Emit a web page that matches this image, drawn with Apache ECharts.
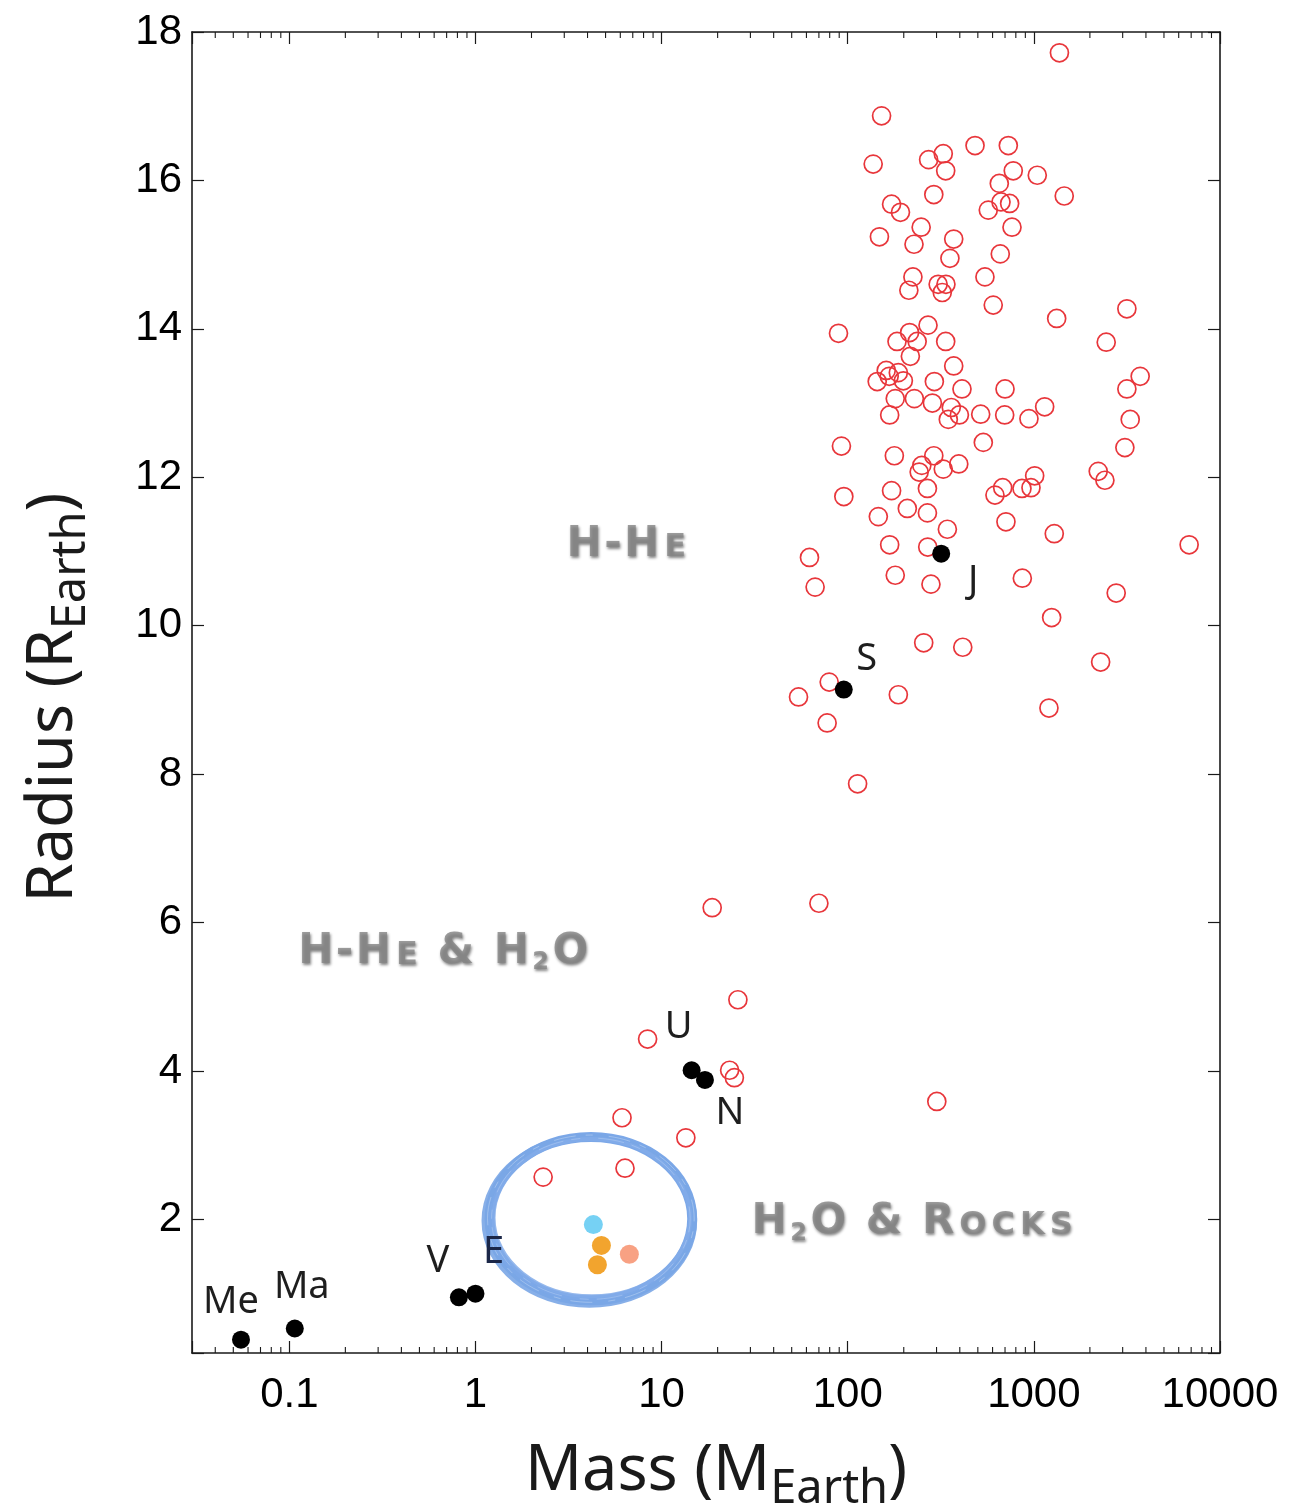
<!DOCTYPE html>
<html>
<head>
<meta charset="utf-8">
<title>Mass - Radius</title>
<script src="https://cdn.jsdelivr.net/npm/echarts@6/dist/echarts.min.js"></script>
<style>
    html, body { margin: 0; padding: 0; background: #fff; }
    #chart { width: 1289px; height: 1507px; }
</style>
</head>
<body>
<div id="chart"></div>
<script>
    // exoplanets (open red circles), mass in Earth masses, radius in Earth radii
    var exoMass = [
        1372, 152, 137, 272, 326, 336, 483, 729, 775, 1043,
        1456, 652, 666, 741, 569, 290, 172, 192, 248, 148,
        227, 371, 354, 763, 660, 546, 224, 213, 306, 337,
        322, 605, 3160, 1326, 2447, 89.2, 215, 270, 184, 236,
        336, 217, 371, 3725, 161, 187, 167, 144, 199, 292,
        411, 700, 3160, 180, 228, 285, 360, 398, 347, 168,
        518, 697, 941, 1143, 3293, 535, 3083, 92.5, 178, 290,
        250, 242, 326, 395, 2217, 2408, 95.3, 172, 268, 209,
        268, 146, 343, 618, 680, 863, 965, 1010, 708, 1287,
        6826, 62.3, 168, 269, 66.8, 180, 280, 867, 2769, 1246,
        256, 415, 2284, 79.5, 54.4, 187, 77.5, 1205, 113,
        18.7, 70.0, 25.7, 8.41, 23.2, 24.6, 301, 6.13, 13.5, 6.36, 2.31
    ]
    var exoRadius = [
        17.72, 16.87, 16.22, 16.28, 16.36, 16.13, 16.47, 16.47, 16.13, 16.07,
        15.79, 15.96, 15.71, 15.69, 15.60, 15.81, 15.68, 15.57, 15.37, 15.24,
        15.14, 15.21, 14.95, 15.37, 15.01, 14.70, 14.70, 14.52, 14.60, 14.60,
        14.49, 14.32, 14.27, 14.14, 13.82, 13.94, 13.95, 14.05, 13.83, 13.83,
        13.83, 13.63, 13.50, 13.36, 13.44, 13.41, 13.36, 13.29, 13.30, 13.29,
        13.19, 13.19, 13.19, 13.06, 13.06, 13.00, 12.94, 12.84, 12.78, 12.84,
        12.85, 12.84, 12.79, 12.95, 12.78, 12.47, 12.40, 12.42, 12.29, 12.29,
        12.16, 12.07, 12.11, 12.18, 12.08, 11.96, 11.74, 11.82, 11.85, 11.58,
        11.52, 11.47, 11.30, 11.76, 11.86, 11.85, 11.86, 12.02, 11.40, 11.24,
        11.09, 10.92, 11.09, 11.06, 10.52, 10.68, 10.56, 10.64, 10.44, 10.11,
        9.77, 9.71, 9.51, 9.24, 9.04, 9.07, 8.69, 8.89, 7.87,
        6.20, 6.26, 4.96, 4.43, 4.01, 3.91, 3.59, 3.37, 3.10, 2.69, 2.57
    ]

    // solar system planets
    var planetNames = ['Me', 'Ma', 'V', 'E', 'U', 'N', 'S', 'J']
    var planetMass = [0.055, 0.107, 0.815, 1.0, 14.5, 17.1, 95.2, 317.8]
    var planetRadius = [0.38, 0.53, 0.95, 1.0, 4.01, 3.88, 9.14, 10.97]

    // small planets inside the ring
    var smallMass = [4.30, 4.75, 4.52, 6.71]
    var smallRadius = [1.93, 1.65, 1.39, 1.53]

    // ring around them: [low, high]
    var ringMass = [1.19, 14.6]
    var ringRadius = [0.91, 3.11]

    // composition regions
    var regionNames = ['H-He', 'H-He & H2O', 'H2O & Rocks']
    var regionMass = [6.46, 0.671, 222]
    var regionRadius = [11.09, 5.60, 1.96]

    // axes
    var massTicks = [0.1, 1, 10, 100, 1000, 10000]
    var radiusTicks = [2, 4, 6, 8, 10, 12, 14, 16, 18]
    var massRange = [0.03, 10000]
    var radiusRange = [0.2, 18]

    // ---- styling ----
    var smallColors = ['#76d1f4', '#f2a42e', '#f2a42e', '#f8a183']
    var planetLabelOffset = {
        Me: [-10, -37], Ma: [7, -41], V: [-21, -36], E: [18, -41],
        U: [-13, -43], N: [25, 33], S: [23, -30], J: [32, 27]
    }
    var planetLabelColor = { E: '#1b2748' }

    var minorTicks = []
    ;[0.01, 0.1, 1, 10, 100, 1000].forEach(function (d) {
        for (var k = 2; k <= 9; k++) {
            var v = d * k
            if (v > massRange[0] * 1.05 && v < massRange[1]) minorTicks.push(v)
        }
    })

    function smallCaps(str) {
        var out = ''
        for (var i = 0; i < str.length; i++) {
            var c = str[i]
            if (c === ' ') out += '{sp| }'
            else if (c >= '0' && c <= '9') out += '{sub|' + c + '}'
            else if (c >= 'a' && c <= 'z') out += '{sc|' + c.toUpperCase() + '}'
            else if (c === '-') out += '{dash|' + c + '}'
            else out += '{cap|' + c + '}'
        }
        return out
    }

    var shadow = {
        fontFamily: 'DejaVu Sans',
        fontWeight: 'bold',
        color: '#858585',
        verticalAlign: 'top',
        textShadowColor: 'rgba(0,0,0,0.6)',
        textShadowBlur: 3,
        textShadowOffsetX: 1,
        textShadowOffsetY: 2
    }
    var regionRich = {
        cap: Object.assign({ fontSize: 42, lineHeight: 42, padding: [0, 2.5, 0, 2.5] }, shadow),
        dash: Object.assign({ fontSize: 42, lineHeight: 42, padding: [0, 0, 0, 0] }, shadow),
        sc: Object.assign({ fontSize: 32, lineHeight: 32, padding: [8, 2.5, 0, 2.5] }, shadow),
        sub: Object.assign({ fontSize: 24, lineHeight: 24, padding: [20, 1, 0, 1] }, shadow),
        sp: Object.assign({ fontSize: 42, lineHeight: 42 }, shadow)
    }

    var titleRich = {
        a: { fontSize: 63, lineHeight: 63, fontFamily: 'Noto Sans', color: '#1a1a1a', verticalAlign: 'top' },
        s: { fontSize: 47, lineHeight: 47, fontFamily: 'Noto Sans', color: '#1a1a1a', verticalAlign: 'top', padding: [25, 0, 0, 0] },
        gap: { width: 10, fontSize: 10, lineHeight: 10, verticalAlign: 'top' },
        gap2: { width: 20, fontSize: 10, lineHeight: 10, verticalAlign: 'top' }
    }

    var axisColor = '#1a1a1a'

    function massLabel(v) {
        for (var i = 0; i < massTicks.length; i++) {
            if (Math.abs(Math.log10(v / massTicks[i])) < 1e-6) return String(massTicks[i])
        }
        return ''
    }
    function radiusLabel(v) {
        var r = Math.round(v * 1000) / 1000
        return radiusTicks.indexOf(r) >= 0 ? String(r) : ''
    }

    var chart = echarts.init(document.getElementById('chart'))

    chart.setOption({
        animation: false,
        backgroundColor: '#fff',
        grid: { left: 192, right: 69, top: 32, bottom: 154, containLabel: false, outerBoundsMode: 'none' },
        xAxis: [
            {
                type: 'log',
                logBase: 10,
                min: massRange[0],
                max: massRange[1],
                position: 'bottom',
                name: '{gap2| }{a|Mass (M}{s|Earth}{a|)}',
                nameLocation: 'middle',
                nameGap: 88,
                nameTextStyle: { rich: titleRich },
                axisLine: { show: true, onZero: false, lineStyle: { color: axisColor, width: 1.6 } },
                axisTick: { show: true, inside: true, length: 12, lineStyle: { color: axisColor, width: 1.2 } },
                axisLabel: {
                    margin: 21,
                    fontSize: 42,
                    fontFamily: 'Liberation Sans',
                    color: '#000',
                    formatter: massLabel
                },
                splitLine: { show: false }
            },
            {
                type: 'log',
                logBase: 10,
                min: massRange[0],
                max: massRange[1],
                position: 'top',
                axisLine: { show: true, onZero: false, lineStyle: { color: axisColor, width: 1.6 } },
                axisTick: { show: true, inside: true, length: 12, lineStyle: { color: axisColor, width: 1.2 } },
                axisLabel: { show: false },
                splitLine: { show: false }
            }
        ],
        yAxis: [
            {
                type: 'value',
                min: radiusRange[0],
                max: radiusRange[1],
                splitNumber: 9,
                position: 'left',
                name: '{a|Radius (R}{s|Earth}{a|)}{gap| }',
                nameLocation: 'middle',
                nameRotate: 90,
                nameGap: 106,
                nameTextStyle: { rich: titleRich },
                axisLine: { show: true, onZero: false, lineStyle: { color: axisColor, width: 1.6 } },
                axisTick: { show: true, inside: true, length: 12, lineStyle: { color: axisColor, width: 1.2 } },
                axisLabel: {
                    margin: 10,
                    fontSize: 42,
                    fontFamily: 'Liberation Sans',
                    color: '#000',
                    formatter: radiusLabel
                },
                splitLine: { show: false }
            },
            {
                type: 'value',
                min: radiusRange[0],
                max: radiusRange[1],
                splitNumber: 9,
                position: 'right',
                axisLine: { show: true, onZero: false, lineStyle: { color: axisColor, width: 1.6 } },
                axisTick: { show: true, inside: true, length: 12, lineStyle: { color: axisColor, width: 1.2 } },
                axisLabel: { show: false },
                splitLine: { show: false }
            }
        ],
        series: [
            {
                // log-spaced minor ticks on bottom and top
                type: 'custom',
                silent: true,
                clip: false,
                data: minorTicks.map(function (v) { return [v, radiusRange[0]] }),
                renderItem: function (params, api) {
                    var b = api.coord([api.value(0), radiusRange[0]])
                    var t = api.coord([api.value(0), radiusRange[1]])
                    var st = { stroke: axisColor, lineWidth: 1.1 }
                    return {
                        type: 'group',
                        children: [
                            { type: 'line', shape: { x1: b[0], y1: b[1], x2: b[0], y2: b[1] - 6 }, style: st },
                            { type: 'line', shape: { x1: t[0], y1: t[1], x2: t[0], y2: t[1] + 6 }, style: st }
                        ]
                    }
                }
            },
            {
                // hand drawn ring
                type: 'custom',
                silent: true,
                z: 1,
                data: [[ringMass[0], ringMass[1], ringRadius[0], ringRadius[1]]],
                encode: { x: [0, 1], y: [2, 3] },
                renderItem: function (params, api) {
                    var p0 = api.coord([api.value(0), api.value(3)])
                    var p1 = api.coord([api.value(1), api.value(2)])
                    var cx = (p0[0] + p1[0]) / 2
                    var cy = (p0[1] + p1[1]) / 2
                    var rx = (p1[0] - p0[0]) / 2
                    var ry = (p1[1] - p0[1]) / 2
                    function ring(dx, dy, drx, dry, w, color, op, dash) {
                        return {
                            type: 'ellipse',
                            shape: { cx: cx + dx, cy: cy + dy, rx: rx + drx, ry: ry + dry },
                            style: { fill: 'transparent', stroke: color, lineWidth: w, opacity: op, lineDash: dash || null }
                        }
                    }
                    return {
                        type: 'group',
                        children: [
                            ring(0, 0, 0, 0, 10, '#7ca8e8', 1),
                            ring(-1.5, 2, 3, 2, 7, '#7aa6e6', 0.9),
                            ring(1, -1, -3, -3, 4, '#82abe9', 0.85),
                            ring(0, 0, 2, 2, 0.8, '#ffffff', 0.35, [22, 10, 7, 16]),
                            ring(0, 0, -2, -1, 0.7, '#ffffff', 0.3, [9, 18, 26, 8])
                        ]
                    }
                }
            },
            {
                type: 'scatter',
                name: 'exoplanets',
                z: 2,
                symbol: 'circle',
                symbolSize: 18,
                itemStyle: { color: 'transparent', borderColor: '#e8363b', borderWidth: 1.7, opacity: 1 },
                emphasis: { disabled: true },
                data: exoMass.map(function (m, i) { return [m, exoRadius[i]] })
            },
            {
                type: 'scatter',
                name: 'small planets',
                z: 3,
                symbolSize: 19,
                emphasis: { disabled: true },
                data: smallMass.map(function (m, i) {
                    return { value: [m, smallRadius[i]], itemStyle: { color: smallColors[i], opacity: 1 } }
                })
            },
            {
                type: 'scatter',
                name: 'solar system',
                z: 4,
                symbolSize: 18,
                itemStyle: { color: '#000', opacity: 1 },
                emphasis: { disabled: true },
                data: planetNames.map(function (n, i) {
                    return {
                        name: n,
                        value: [planetMass[i], planetRadius[i]],
                        label: { offset: planetLabelOffset[n], color: planetLabelColor[n] || '#1e1e1e' }
                    }
                }),
                label: {
                    show: true,
                    position: 'inside',
                    formatter: '{b}',
                    fontFamily: 'Noto Sans',
                    fontSize: 38,
                    color: '#1e1e1e'
                }
            },
            {
                type: 'scatter',
                name: 'regions',
                z: 5,
                symbolSize: 0,
                silent: true,
                data: regionNames.map(function (n, i) {
                    return { name: n, value: [regionMass[i], regionRadius[i]] }
                }),
                label: {
                    show: true,
                    position: 'inside',
                    formatter: function (p) { return smallCaps(p.name) },
                    rich: regionRich
                }
            }
        ]
    })
</script>
</body>
</html>
